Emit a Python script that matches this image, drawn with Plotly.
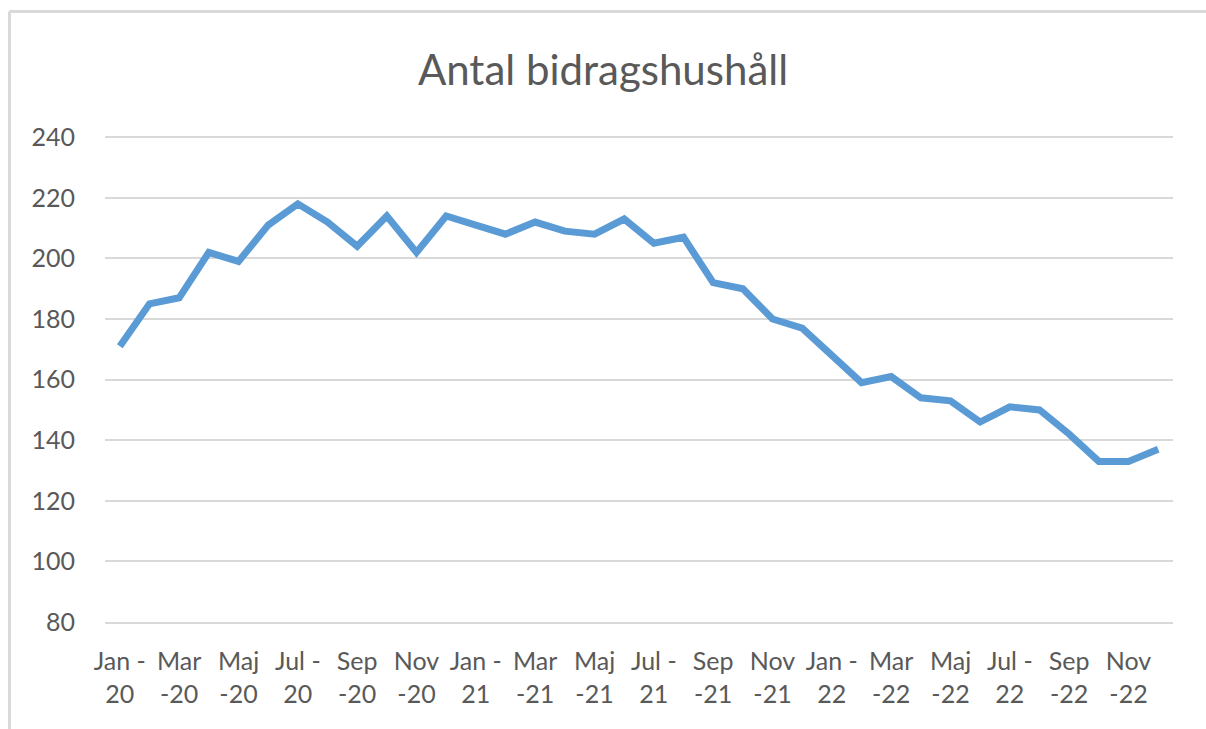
import plotly.graph_objects as go

# Monthly counts, Jan 2020 - Dec 2022
months = ["Jan", "Feb", "Mar", "Apr", "Maj", "Jun",
          "Jul", "Aug", "Sep", "Okt", "Nov", "Dec"]
years = ["20", "21", "22"]
categories = [f"{m} -{y}" for y in years for m in months]

values = [171, 185, 187, 202, 199, 211, 218, 212, 204, 214, 202, 214,
          211, 208, 212, 209, 208, 213, 205, 207, 192, 190, 180, 177,
          168, 159, 161, 154, 153, 146, 151, 150, 142, 133, 133, 137]

# Every other month gets a two-line label
tick_labels = ["Jan -<br>20", "Mar<br>-20", "Maj<br>-20", "Jul -<br>20", "Sep<br>-20", "Nov<br>-20",
               "Jan -<br>21", "Mar<br>-21", "Maj<br>-21", "Jul -<br>21", "Sep<br>-21", "Nov<br>-21",
               "Jan -<br>22", "Mar<br>-22", "Maj<br>-22", "Jul -<br>22", "Sep<br>-22", "Nov<br>-22"]
tick_positions = categories[::2]

y_ticks = [80, 100, 120, 140, 160, 180, 200, 220, 240]

TEXT = "#595959"
GRID = "#d9d9d9"
FONT = "Lato"

fig = go.Figure(
    go.Scatter(
        x=categories,
        y=values,
        mode="lines",
        line=dict(color="#5b9bd5", width=7, shape="linear"),
        hoverinfo="x+y",
    )
)

fig.update_layout(
    width=1206,
    height=729,
    margin=dict(l=105, r=33, t=136, b=107),
    paper_bgcolor="white",
    plot_bgcolor="white",
    showlegend=False,
    font=dict(family=FONT, color=TEXT, size=25),
    title=dict(
        text="Antal bidragshushåll",
        x=0.5,
        xanchor="center",
        y=1 - 70 / 729,
        yanchor="middle",
        font=dict(family=FONT, size=42, color=TEXT),
    ),
    xaxis=dict(
        type="category",
        categoryorder="array",
        categoryarray=categories,
        range=[-0.5, len(categories) - 0.5],
        tickmode="array",
        tickvals=tick_positions,
        ticktext=tick_labels,
        tickangle=0,
        showgrid=False,
        showline=True,
        linecolor=GRID,
        linewidth=2,
        ticks="",
        ticklabelstandoff=16,
        tickfont=dict(family=FONT, size=25, color=TEXT),
    ),
    yaxis=dict(
        range=[80, 240.4],
        tickmode="array",
        tickvals=y_ticks,
        showgrid=True,
        gridcolor=GRID,
        gridwidth=2,
        zeroline=False,
        showline=False,
        ticks="",
        ticklabelstandoff=29,
        tickfont=dict(family=FONT, size=25, color=TEXT),
    ),
    shapes=[
        # chart frame edges
        dict(type="line", xref="paper", yref="paper",
             x0=(9.5 - 105) / 1068, x1=1.2, y0=1 + (136 - 11.5) / 486, y1=1 + (136 - 11.5) / 486,
             line=dict(color=GRID, width=3)),
        dict(type="line", xref="paper", yref="paper",
             x0=(9.5 - 105) / 1068, x1=(9.5 - 105) / 1068, y0=-0.3, y1=1 + (136 - 11.5) / 486,
             line=dict(color=GRID, width=3)),
    ],
)

fig.write_html("out.html")
